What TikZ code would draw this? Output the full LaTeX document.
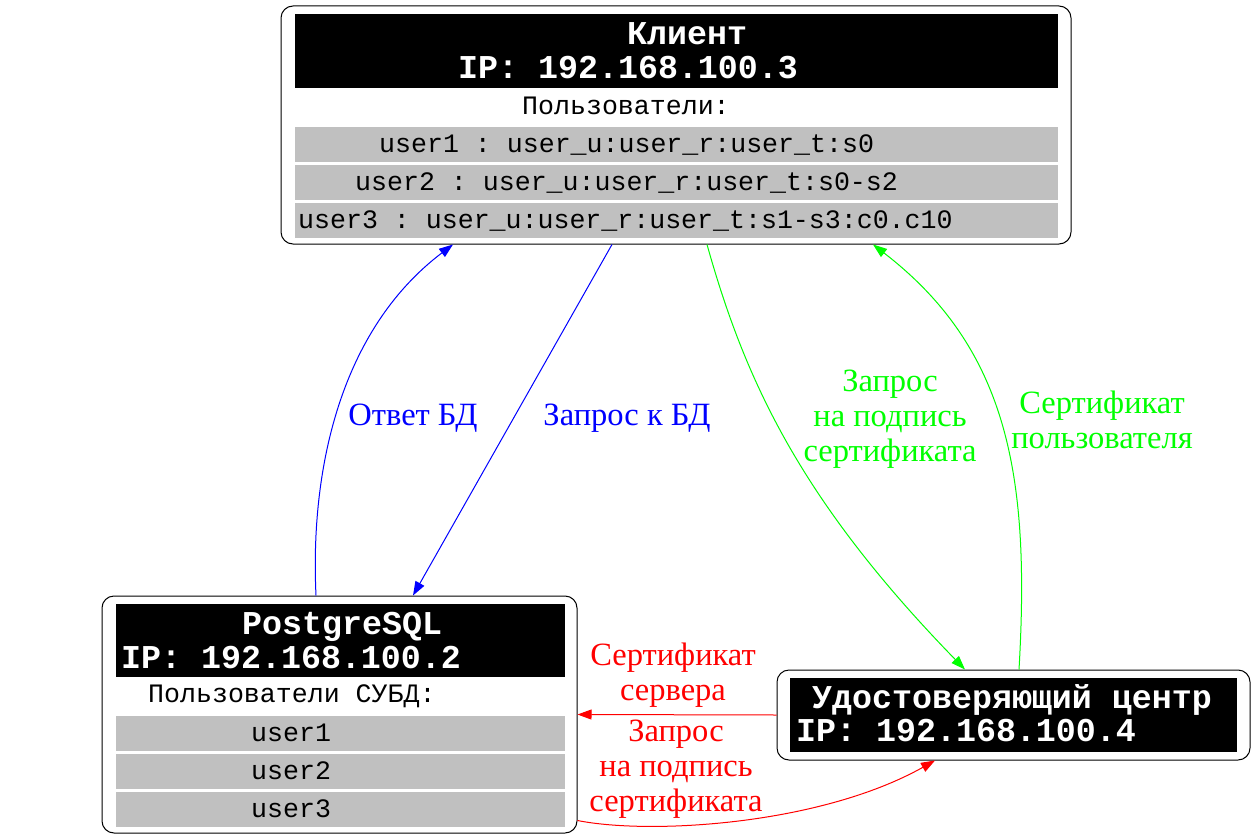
\documentclass[tikz,border=0pt]{standalone}
\usepackage{fontspec}
\setmainfont{Liberation Serif}
\setmonofont{Liberation Mono}
\usetikzlibrary{arrows.meta}
\definecolor{rowgray}{RGB}{192,192,192}
\definecolor{pureblue}{RGB}{0,0,255}
\definecolor{puregreen}{RGB}{0,255,0}
\definecolor{purered}{RGB}{255,0,0}
\tikzset{
    hostbox/.style={draw, rounded corners=12pt, line width=1pt, inner sep=0pt}, % 主机外框
    headbar/.style={fill=black, inner sep=0pt, anchor=north west}, % 黑色标题栏
    userrow/.style={fill=rowgray, inner sep=0pt, anchor=north west}, % 灰色用户行
    monotext/.style={font=\ttfamily\fontsize{26.6}{30}\selectfont, anchor=base west, inner sep=0pt},
    headtext/.style={font=\ttfamily\bfseries\fontsize{33.3}{36}\selectfont, text=white, anchor=base west, inner sep=0pt},
    edgelabel/.style={font=\fontsize{32.5}{35}\selectfont, align=center, inner sep=0pt},
    link/.style={-{Triangle[length=14pt, width=10pt]}, line width=1pt} % 连线与箭头
}

\begin{document}
\begin{tikzpicture}[x=1pt, y=-1pt]
    \useasboundingbox (0,0) rectangle (1255,840);

    % Клиент
    \node[hostbox, minimum width=790pt, minimum height=238pt] (client) at (676,125) {};
    \node[headbar, minimum width=763pt, minimum height=74pt] (client-head) at (295,14) {};
    \node[headtext] (client-name) at (627,45) {Клиент};
    \node[headtext] (client-ip) at (458,79) {IP: 192.168.100.3};
    \node[monotext] (client-users) at (522,114) {Пользователи:};
    \foreach \y / \tx / \labelText in {
        127/379/{user1 : user\_u:user\_r:user\_t:s0},
        165/355/{user2 : user\_u:user\_r:user\_t:s0-s2},
        203/298/{user3 : user\_u:user\_r:user\_t:s1-s3:c0.c10}
    } {
        \node[userrow, minimum width=763pt, minimum height=35pt] (client-row\y) at (295,\y) {};
        \node[monotext] (client-text\y) at (\tx,\y+25) {\labelText};
    }

    % PostgreSQL
    \node[hostbox, minimum width=475pt, minimum height=237pt] (pg) at (339.5,714.5) {};
    \node[headbar, minimum width=449pt, minimum height=73pt] (pg-head) at (116,604) {};
    \node[headtext] (pg-name) at (242,634) {PostgreSQL};
    \node[headtext] (pg-ip) at (121,668) {IP: 192.168.100.2};
    \node[monotext] (pg-users) at (148,702) {Пользователи СУБД:};
    \foreach \y / \labelText in {
        716/{user1},
        754/{user2},
        792/{user3}
    } {
        \node[userrow, minimum width=449pt, minimum height=35pt] (pg-row\y) at (116,\y) {};
        \node[monotext] (pg-text\y) at (251,\y+25) {\labelText};
    }

    % Удостоверяющий центр
    \node[hostbox, minimum width=473pt, minimum height=90pt] (ca) at (1013.5,715) {};
    \node[headbar, minimum width=447pt, minimum height=74pt] (ca-head) at (790,678) {};
    \node[headtext] (ca-name) at (812,708) {Удостоверяющий центр};
    \node[headtext] (ca-ip) at (796,741) {IP: 192.168.100.4};

    % связи
    \draw[link, pureblue] ([xshift=-23.5pt]pg.north) .. controls (310,470) and (340,330) .. ([xshift=-223pt]client.south);
    \node[edgelabel, text=pureblue] (answer) at (413,418) {Ответ БД};

    \draw[link, pureblue] ([xshift=-64pt]client.south) -- ([xshift=73.5pt]pg.north);
    \node[edgelabel, text=pureblue] (query) at (627,418) {Запрос к БД};

    \draw[link, puregreen] ([xshift=31pt]client.south) .. controls (745,380) and (800,500) .. ([xshift=-48.5pt]ca.north);
    \node[edgelabel, text=puregreen] (csr-user) at (890,419) {Запрос\\на подпись\\сертификата};

    \draw[link, puregreen] ([xshift=5.5pt]ca.north) .. controls (1030,480) and (1010,350) .. ([xshift=197pt]client.south);
    \node[edgelabel, text=puregreen] (cert-user) at (1102,420) {Сертификат\\пользователя};

    \draw[link, purered] (ca.west) -- (pg.east);
    \node[edgelabel, text=purered] (cert-srv) at (673,675) {Сертификат\\сервера};

    \draw[link, purered] ([yshift=13pt]pg.south east) .. controls (650,835) and (820,825) .. ([xshift=-78.5pt]ca.south);
    \node[edgelabel, text=purered] (csr-srv) at (676,769) {Запрос\\на подпись\\сертификата};
\end{tikzpicture}
\end{document}
